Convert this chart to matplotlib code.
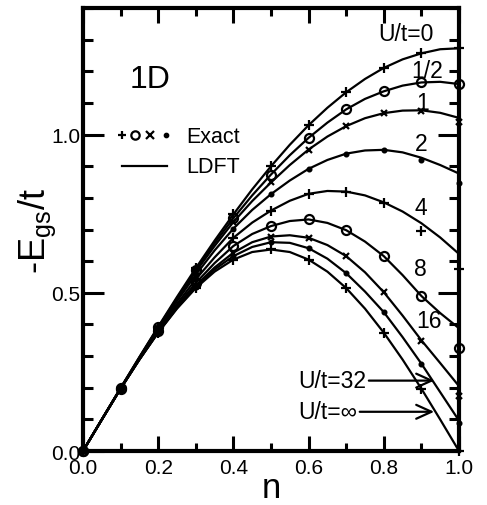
import matplotlib
matplotlib.use('Agg')
import matplotlib.pyplot as plt
from matplotlib.ticker import MultipleLocator

plt.rcParams['font.family'] = ['Liberation Sans', 'DejaVu Sans']

# filling n where the exact (Bethe ansatz) points sit
n_exact = [0.0, 0.1, 0.2, 0.3, 0.4, 0.5, 0.6, 0.7, 0.8, 0.9, 1.0]
# filling n for the LDFT curves
n_ldft = [0.0, 0.05, 0.1, 0.15, 0.2, 0.25, 0.3, 0.35, 0.4, 0.45, 0.5,
          0.55, 0.6, 0.65, 0.7, 0.75, 0.8, 0.85, 0.9, 0.95, 1.0]

u_names = ['0', '1/2', '1', '2', '4', '8', '16', '32', '∞']

# -E_gs/t, exact
exact_u0 = [0, 0.199, 0.393, 0.578, 0.748, 0.900, 1.030, 1.134, 1.211, 1.257, 1.273]
exact_u05 = [0, 0.199, 0.391, 0.572, 0.736, 0.874, 0.990, 1.080, 1.137, 1.168, 1.160]
exact_u1 = [0, 0.198, 0.389, 0.567, 0.724, 0.849, 0.953, 1.027, 1.068, 1.076, 1.040]
exact_u2 = [0, 0.198, 0.386, 0.557, 0.703, 0.812, 0.892, 0.940, 0.951, 0.920, 0.846]
exact_u4 = [0, 0.197, 0.382, 0.543, 0.674, 0.760, 0.813, 0.819, 0.785, 0.697, 0.574]
exact_u8 = [0, 0.197, 0.378, 0.531, 0.648, 0.711, 0.732, 0.698, 0.616, 0.490, 0.327]
exact_u16 = [0, 0.197, 0.376, 0.523, 0.627, 0.678, 0.674, 0.616, 0.502, 0.349, 0.173]
exact_u32 = [0, 0.197, 0.375, 0.519, 0.616, 0.660, 0.641, 0.562, 0.439, 0.275, 0.087]
exact_uinf = [0, 0.197, 0.374, 0.515, 0.605, 0.637, 0.605, 0.515, 0.374, 0.197, 0.0]

# -E_gs/t, LDFT
ldft_u0 = [0, 0.100, 0.199, 0.297, 0.393, 0.487, 0.578, 0.665, 0.748, 0.827, 0.900,
           0.968, 1.030, 1.085, 1.134, 1.176, 1.211, 1.238, 1.257, 1.270, 1.273]
ldft_u05 = [0, 0.100, 0.199, 0.296, 0.391, 0.483, 0.572, 0.657, 0.736, 0.808, 0.874,
            0.935, 0.990, 1.038, 1.080, 1.113, 1.137, 1.155, 1.165, 1.167, 1.160]
ldft_u1 = [0, 0.099, 0.198, 0.295, 0.389, 0.480, 0.567, 0.648, 0.724, 0.790, 0.849,
           0.904, 0.953, 0.994, 1.027, 1.052, 1.068, 1.076, 1.077, 1.069, 1.053]
ldft_u2 = [0, 0.099, 0.198, 0.293, 0.386, 0.474, 0.557, 0.634, 0.703, 0.762, 0.812,
           0.855, 0.892, 0.920, 0.940, 0.950, 0.952, 0.944, 0.927, 0.904, 0.877]
ldft_u4 = [0, 0.099, 0.197, 0.291, 0.382, 0.465, 0.543, 0.612, 0.674, 0.722, 0.760,
           0.791, 0.813, 0.822, 0.820, 0.808, 0.786, 0.757, 0.720, 0.675, 0.623]
ldft_u8 = [0, 0.099, 0.197, 0.290, 0.378, 0.459, 0.531, 0.594, 0.648, 0.686, 0.711,
           0.727, 0.732, 0.721, 0.698, 0.662, 0.616, 0.556, 0.490, 0.436, 0.388]
ldft_u16 = [0, 0.099, 0.197, 0.289, 0.376, 0.454, 0.523, 0.580, 0.627, 0.660, 0.678,
            0.682, 0.674, 0.651, 0.616, 0.565, 0.502, 0.428, 0.350, 0.278, 0.205]
ldft_u32 = [0, 0.099, 0.197, 0.289, 0.375, 0.452, 0.519, 0.574, 0.616, 0.645, 0.660,
            0.658, 0.641, 0.608, 0.562, 0.504, 0.439, 0.360, 0.276, 0.186, 0.096]
ldft_uinf = [0, 0.0996, 0.197, 0.289, 0.374, 0.450, 0.515, 0.567, 0.605, 0.629, 0.637,
             0.629, 0.605, 0.567, 0.515, 0.450, 0.374, 0.289, 0.197, 0.0996, 0.0]

exact_all = [exact_u0, exact_u05, exact_u1, exact_u2, exact_u4,
             exact_u8, exact_u16, exact_u32, exact_uinf]
ldft_all = [ldft_u0, ldft_u05, ldft_u1, ldft_u2, ldft_u4,
            ldft_u8, ldft_u16, ldft_u32, ldft_uinf]

markers = ['+', 'o', 'x', '.', '+', 'o', 'x', '.', '+']
msizes = [6.5, 6.5, 5, 5.5, 6.5, 6.5, 5, 5.5, 6.5]

fig = plt.figure(figsize=(4.87, 5.06), dpi=100)
ax = fig.add_axes([0.1704, 0.1067, 0.7721, 0.8753])

for yl, ye, m, ms in zip(ldft_all, exact_all, markers, msizes):
    ax.plot(n_ldft, yl, color='black', lw=1.6, solid_joinstyle='round')
    ax.plot(n_exact, ye, ls='none', marker=m, ms=ms, mfc='none' if m == 'o' else 'black',
            mec='black', mew=1.6, clip_on=False)

# curve labels
lab_pos = [(0.860, 1.299), (0.914, 1.183), (0.902, 1.082), (0.899, 0.950),
           (0.899, 0.750), (0.896, 0.555), (0.920, 0.391)]
for (x, y), name in zip(lab_pos, u_names[:7]):
    txt = 'U/t=' + name if name == '0' else name
    ax.text(x, y, txt, fontsize=16.5, ha='center', va='baseline')

arrow = dict(arrowstyle='->,head_length=0.55,head_width=0.25', color='black', lw=1.6,
             shrinkA=0, shrinkB=0, relpos=(1, 0.5), mutation_scale=20)
ax.annotate('U/t=32', xy=(0.934, 0.2225), xytext=(0.572, 0.2225), fontsize=16.5,
            ha='left', va='center', arrowprops=arrow)
ax.annotate('U/t=∞', xy=(0.934, 0.124), xytext=(0.572, 0.124), fontsize=16.5,
            ha='left', va='center', arrowprops=arrow)

ax.text(0.125, 1.152, '1D', fontsize=23, ha='left', va='baseline')

# hand-made legend
leg_x = [0.103, 0.138, 0.178, 0.221]
for xm, m in zip(leg_x, markers[:4]):
    ax.plot([xm], [0.998], ls='none', marker=m, ms=6 if m != '.' else 5,
            mfc='none' if m == 'o' else 'black', mec='black', mew=1.6)
ax.text(0.274, 0.977, 'Exact', fontsize=15.5, ha='left', va='baseline')
ax.plot([0.103, 0.223], [0.900, 0.900], color='black', lw=1.6)
ax.text(0.274, 0.882, 'LDFT', fontsize=15.5, ha='left', va='baseline')

ax.set_xlim(0, 1)
ax.set_ylim(0, 1.4)
ax.xaxis.set_major_locator(MultipleLocator(0.2))
ax.xaxis.set_minor_locator(MultipleLocator(0.1))
ax.yaxis.set_major_locator(MultipleLocator(0.5))
ax.yaxis.set_minor_locator(MultipleLocator(0.1))
ax.xaxis.set_major_formatter(plt.FormatStrFormatter('%.1f'))
ax.yaxis.set_major_formatter(plt.FormatStrFormatter('%.1f'))

ax.tick_params(axis='both', which='both', direction='in', top=True, right=True,
               labelsize=15, width=2.2)
ax.tick_params(axis='x', which='major', length=10.5, pad=5)
ax.tick_params(axis='x', which='minor', length=6)
ax.tick_params(axis='y', which='major', length=15, pad=2)
ax.tick_params(axis='y', which='minor', length=7)
for s in ax.spines.values():
    s.set_linewidth(3)

ax.set_xlabel('n', fontsize=25, labelpad=-4)
ax.set_ylabel(r'-E$_{\mathregular{gs}}$/t', fontsize=26)
ax.yaxis.set_label_coords(-0.066, 0.5)

fig.savefig('out.png', dpi=100)
